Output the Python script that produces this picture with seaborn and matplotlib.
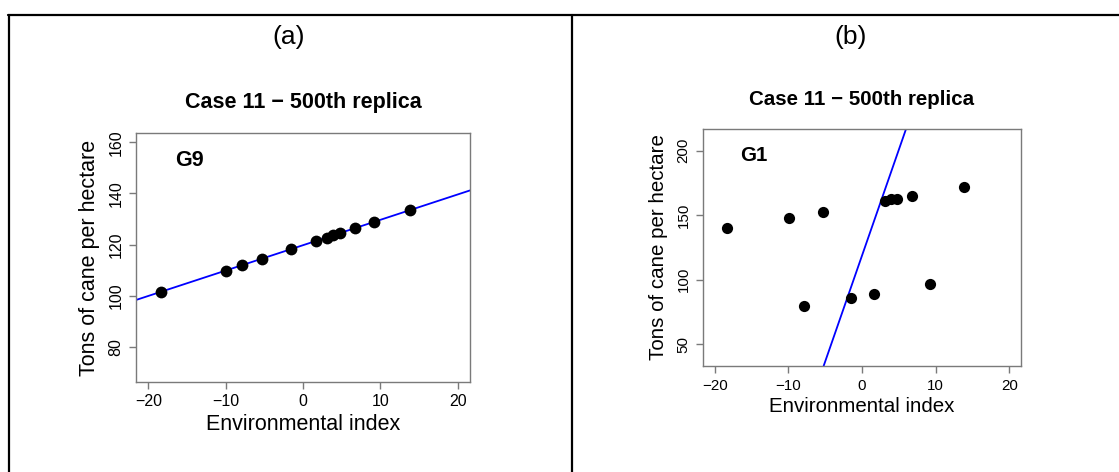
import numpy as np
import pandas as pd
import matplotlib
matplotlib.use("Agg")
import matplotlib.pyplot as plt
import seaborn as sns
from matplotlib.lines import Line2D

# ---- data ----
env_index = [-18.4, -9.9, -7.9, -5.25, -1.5, 1.66, 3.16, 3.9, 4.75, 6.76, 9.2, 13.85]
yield_g9 = [101.4, 109.8, 111.9, 114.6, 118.2, 121.4, 122.8, 123.6, 124.5, 126.4, 128.9, 133.6]
yield_g1 = [139.9, 148.1, 79.3, 152.8, 85.6, 88.9, 161.1, 162.4, 162.9, 164.8, 96.4, 172.0]
fit_g9 = (119.8, 0.99)     # intercept, slope
fit_g1 = (118.7, 16.4)
panel_tags = ["(a)", "(b)"]
genotypes = ["G9", "G1"]
titles = ["Case 11 \u2212 500th replica", "Case 11 \u2212 500th replica"]
x_ticks = [-20, -10, 0, 10, 20]
y_ticks_a = [80, 100, 120, 140, 160]
y_ticks_b = [50, 100, 150, 200]
xlim = (-20, 20)
ylim_a = (70, 160)
ylim_b = (40, 210)
xlabel = "Environmental index"
ylabel = "Tons of cane per hectare"

sns.set_style("white")
plt.rcParams["font.family"] = ["Liberation Sans", "DejaVu Sans"]
plt.rcParams["text.color"] = "black"
plt.rcParams["axes.labelcolor"] = "black"

W, H = 1119, 472
fig = plt.figure(figsize=(W / 100, H / 100), dpi=100)

def px_axes(l, t, r, b):
    return fig.add_axes([l / W, 1 - b / H, (r - l) / W, (b - t) / H])

ax_a = px_axes(136, 133, 470, 382)
ax_b = px_axes(703, 129, 1021, 366)

def pad_lim(lo, hi):
    d = (hi - lo) * 0.04
    return lo - d, hi + d

gray = "#7a7a7a"

def style_panel(ax, df, fit, yticks, ylim, geno, title, s):
    sns.scatterplot(data=df, x="env", y="yield", ax=ax, color="black",
                    s=72 * s * s, edgecolor="black", linewidth=0, zorder=3)
    a, b = fit
    ax.axline((0, a), slope=b, color="#0000ff", lw=1.3, zorder=2)
    ax.set_xlim(*pad_lim(*xlim))
    ax.set_ylim(*pad_lim(*ylim))
    ax.set_xticks(x_ticks)
    ax.set_yticks(yticks)
    for sp in ax.spines.values():
        sp.set_color(gray)
        sp.set_linewidth(1.0)
        sp.set_visible(True)
    ax.tick_params(axis="both", direction="out", length=5, width=1,
                   color=gray, labelsize=11.5 * s, labelcolor="black", pad=4,
                   bottom=True, left=True)
    ax.tick_params(axis="y", labelrotation=90)
    for lab in ax.get_yticklabels():
        lab.set_va("center")
    ax.set_xlabel(xlabel, fontsize=15.5 * s, labelpad=3)
    ax.set_ylabel(ylabel, fontsize=15.5 * s, labelpad=6)
    ax.set_title(title, fontsize=15.5 * s, fontweight="bold", pad=18 * s,
                 color="black")
    ax.text(0.16, 0.89, geno, transform=ax.transAxes, fontsize=15.5 * s,
            fontweight="bold", ha="center", va="center", color="black")

df_a = pd.DataFrame({"env": env_index, "yield": yield_g9})
df_b = pd.DataFrame({"env": env_index, "yield": yield_g1})
style_panel(ax_a, df_a, fit_g9, y_ticks_a, ylim_a, genotypes[0], titles[0], 1.0)
style_panel(ax_b, df_b, fit_g1, y_ticks_b, ylim_b, genotypes[1], titles[1], 0.95)

fig.text(289 / W, 1 - 37 / H, panel_tags[0], fontsize=19, ha="center", va="center")
fig.text(851 / W, 1 - 37 / H, panel_tags[1], fontsize=19, ha="center", va="center")

# table-like frame
lw = 1.6
fig.add_artist(Line2D([8 / W, 1.0], [1 - 15 / H, 1 - 15 / H], color="black", lw=lw,
                      transform=fig.transFigure))
fig.add_artist(Line2D([8.5 / W, 8.5 / W], [0, 1 - 15 / H], color="black", lw=lw,
                      transform=fig.transFigure))
fig.add_artist(Line2D([571.5 / W, 571.5 / W], [0, 1 - 15 / H], color="black", lw=lw,
                      transform=fig.transFigure))

fig.savefig("out.png", dpi=100, facecolor="white")
